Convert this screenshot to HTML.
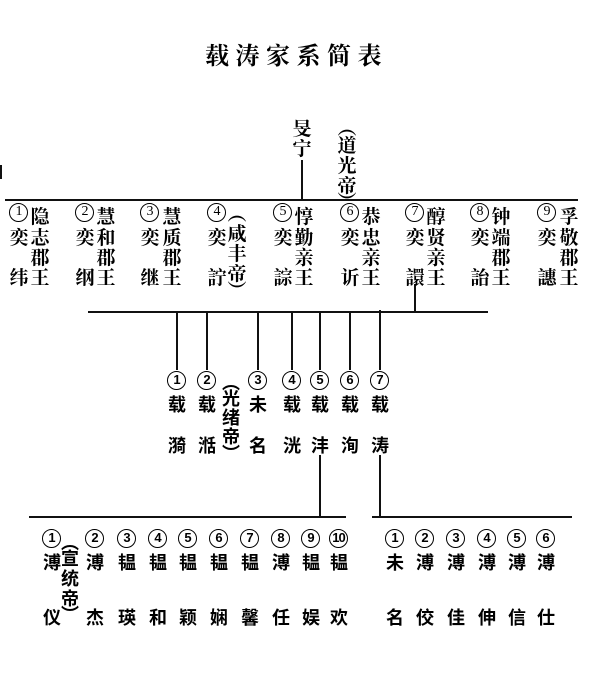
<!DOCTYPE html>
<html><head><meta charset="utf-8"><style>
html,body{margin:0;padding:0;background:#fff;}
body{width:601px;height:698px;position:relative;overflow:hidden;}
.t{position:absolute;left:205px;top:36px;font:700 24px "Liberation Serif","Noto Serif CJK SC",serif;letter-spacing:6.5px;color:#000;white-space:nowrap;}
i{position:absolute;font-style:normal;width:24px;margin-left:-12px;text-align:center;line-height:20px;margin-top:-11px;color:#000;}
.a i{font:700 19px "Noto Serif CJK SC","Liberation Serif",serif;}
.b i{font:700 18px "Noto Sans CJK SC","Liberation Sans",sans-serif;}
.a i.n,.b i.n{width:17px;height:17px;border:1.6px solid #000;border-radius:50%;margin-left:-10px;margin-top:-10px;line-height:17px;font:400 14px "Liberation Serif",serif;text-align:center;letter-spacing:-1px;}
.b i.n{font:700 13px "Liberation Sans",sans-serif;}
.h{position:absolute;background:#111;height:2px;}
.v{position:absolute;background:#111;width:2px;}
</style></head><body>
<div class="t">载涛家系简表</div>

<div class="v" style="left:301px;top:160px;height:41px"></div>
<div class="h" style="left:5px;top:199px;width:573px"></div>
<div class="v" style="left:414px;top:284px;height:29px"></div>
<div class="h" style="left:88px;top:311px;width:400px"></div>
<div class="v" style="left:176px;top:312px;height:58px"></div>
<div class="v" style="left:206px;top:312px;height:58px"></div>
<div class="v" style="left:257px;top:312px;height:58px"></div>
<div class="v" style="left:291px;top:312px;height:58px"></div>
<div class="v" style="left:319px;top:312px;height:58px"></div>
<div class="v" style="left:349px;top:312px;height:58px"></div>
<div class="v" style="left:379px;top:310px;height:60px"></div>
<div class="v" style="left:319px;top:455px;height:62px"></div>
<div class="v" style="left:379px;top:455px;height:62px"></div>
<div class="h" style="left:29px;top:516px;width:317px"></div>
<div class="h" style="left:372px;top:516px;width:200px"></div>
<div class="v" style="left:0px;top:165px;height:14px"></div>

<div class="a">
<i style="left:302px;top:125px">旻</i><i style="left:302px;top:145px">宁</i>
<i style="left:347px;top:124px">︵</i><i style="left:347px;top:142px">道</i><i style="left:347px;top:162px">光</i><i style="left:347px;top:182px">帝</i><i style="left:347px;top:198px">︶</i>

<i class="n" style="left:19px;top:213px">1</i><i style="left:19px;top:234px">奕</i><i style="left:19px;top:274px">纬</i>
<i style="left:40px;top:213px">隐</i><i style="left:40px;top:234px">志</i><i style="left:40px;top:254px">郡</i><i style="left:40px;top:274px">王</i>

<i class="n" style="left:85px;top:213px">2</i><i style="left:85px;top:234px">奕</i><i style="left:85px;top:274px">纲</i>
<i style="left:106px;top:213px">慧</i><i style="left:106px;top:234px">和</i><i style="left:106px;top:254px">郡</i><i style="left:106px;top:274px">王</i>

<i class="n" style="left:150px;top:213px">3</i><i style="left:150px;top:234px">奕</i><i style="left:150px;top:274px">继</i>
<i style="left:172px;top:213px">慧</i><i style="left:172px;top:234px">质</i><i style="left:172px;top:254px">郡</i><i style="left:172px;top:274px">王</i>

<i class="n" style="left:217px;top:213px">4</i><i style="left:217px;top:234px">奕</i><i style="left:217px;top:274px">詝</i>
<i style="left:237px;top:210px">︵</i><i style="left:237px;top:230px">咸</i><i style="left:237px;top:250px">丰</i><i style="left:237px;top:270px">帝</i><i style="left:237px;top:287px">︶</i>

<i class="n" style="left:283px;top:213px">5</i><i style="left:283px;top:234px">奕</i><i style="left:283px;top:274px">誴</i>
<i style="left:304px;top:213px">惇</i><i style="left:304px;top:234px">勤</i><i style="left:304px;top:254px">亲</i><i style="left:304px;top:274px">王</i>

<i class="n" style="left:350px;top:213px">6</i><i style="left:350px;top:234px">奕</i><i style="left:350px;top:274px">䜣</i>
<i style="left:371px;top:213px">恭</i><i style="left:371px;top:234px">忠</i><i style="left:371px;top:254px">亲</i><i style="left:371px;top:274px">王</i>

<i class="n" style="left:415px;top:213px">7</i><i style="left:415px;top:234px">奕</i><i style="left:415px;top:274px">譞</i>
<i style="left:436px;top:213px">醇</i><i style="left:436px;top:234px">贤</i><i style="left:436px;top:254px">亲</i><i style="left:436px;top:274px">王</i>

<i class="n" style="left:480px;top:213px">8</i><i style="left:480px;top:234px">奕</i><i style="left:480px;top:274px">詒</i>
<i style="left:501px;top:213px">钟</i><i style="left:501px;top:234px">端</i><i style="left:501px;top:254px">郡</i><i style="left:501px;top:274px">王</i>

<i class="n" style="left:547px;top:213px">9</i><i style="left:547px;top:234px">奕</i><i style="left:547px;top:274px">譓</i>
<i style="left:569px;top:213px">孚</i><i style="left:569px;top:234px">敬</i><i style="left:569px;top:254px">郡</i><i style="left:569px;top:274px">王</i>
</div>

<div class="b">
<i class="n" style="left:177px;top:381px">1</i><i style="left:177px;top:402px">载</i><i style="left:177px;top:443px">漪</i>
<i class="n" style="left:207px;top:381px">2</i><i style="left:207px;top:402px">载</i><i style="left:207px;top:443px">湉</i>
<i style="left:231px;top:380px">︵</i><i style="left:231px;top:396px">光</i><i style="left:231px;top:415px">绪</i><i style="left:231px;top:434px">帝</i><i style="left:231px;top:451px">︶</i>
<i class="n" style="left:258px;top:381px">3</i><i style="left:258px;top:402px">未</i><i style="left:258px;top:443px">名</i>
<i class="n" style="left:292px;top:381px">4</i><i style="left:292px;top:402px">载</i><i style="left:292px;top:443px">洸</i>
<i class="n" style="left:320px;top:381px">5</i><i style="left:320px;top:402px">载</i><i style="left:320px;top:443px">沣</i>
<i class="n" style="left:350px;top:381px">6</i><i style="left:350px;top:402px">载</i><i style="left:350px;top:443px">洵</i>
<i class="n" style="left:380px;top:381px">7</i><i style="left:380px;top:402px">载</i><i style="left:380px;top:443px">涛</i>

<i class="n" style="left:52px;top:539px">1</i><i style="left:52px;top:560px">溥</i><i style="left:52px;top:615px">仪</i>
<i style="left:70px;top:540px">︵</i><i style="left:70px;top:556px">宣</i><i style="left:70px;top:576px">统</i><i style="left:70px;top:596px">帝</i><i style="left:70px;top:612px">︶</i>
<i class="n" style="left:95px;top:539px">2</i><i style="left:95px;top:560px">溥</i><i style="left:95px;top:615px">杰</i>
<i class="n" style="left:127px;top:539px">3</i><i style="left:127px;top:560px">韫</i><i style="left:127px;top:615px">瑛</i>
<i class="n" style="left:158px;top:539px">4</i><i style="left:158px;top:560px">韫</i><i style="left:158px;top:615px">和</i>
<i class="n" style="left:188px;top:539px">5</i><i style="left:188px;top:560px">韫</i><i style="left:188px;top:615px">颖</i>
<i class="n" style="left:219px;top:539px">6</i><i style="left:219px;top:560px">韫</i><i style="left:219px;top:615px">娴</i>
<i class="n" style="left:250px;top:539px">7</i><i style="left:250px;top:560px">韫</i><i style="left:250px;top:615px">馨</i>
<i class="n" style="left:281px;top:539px">8</i><i style="left:281px;top:560px">溥</i><i style="left:281px;top:615px">任</i>
<i class="n" style="left:311px;top:539px">9</i><i style="left:311px;top:560px">韫</i><i style="left:311px;top:615px">娱</i>
<i class="n" style="left:339px;top:539px">10</i><i style="left:339px;top:560px">韫</i><i style="left:339px;top:615px">欢</i>

<i class="n" style="left:395px;top:539px">1</i><i style="left:395px;top:560px">未</i><i style="left:395px;top:615px">名</i>
<i class="n" style="left:425px;top:539px">2</i><i style="left:425px;top:560px">溥</i><i style="left:425px;top:615px">佼</i>
<i class="n" style="left:456px;top:539px">3</i><i style="left:456px;top:560px">溥</i><i style="left:456px;top:615px">佳</i>
<i class="n" style="left:487px;top:539px">4</i><i style="left:487px;top:560px">溥</i><i style="left:487px;top:615px">伸</i>
<i class="n" style="left:517px;top:539px">5</i><i style="left:517px;top:560px">溥</i><i style="left:517px;top:615px">信</i>
<i class="n" style="left:546px;top:539px">6</i><i style="left:546px;top:560px">溥</i><i style="left:546px;top:615px">仕</i>
</div>
</body></html>
